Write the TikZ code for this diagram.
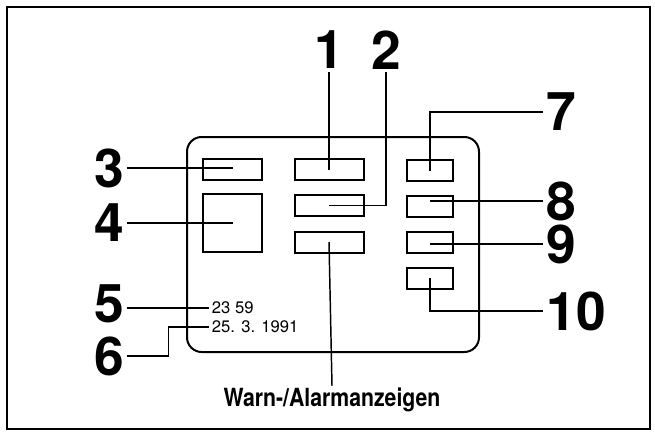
\documentclass[tikz,border=0pt]{standalone}
\usepackage{fontspec}
\setmainfont{TeX Gyre Heros}
\newfontfamily\narrowfont[FakeStretch=0.85]{TeX Gyre Heros}
\tikzset{
  lamp/.style={draw, line width=1.5pt, minimum width=#1, minimum height=15.75pt, inner sep=0pt},
  lamp/.default=51.75pt,
  lbl/.style={inner xsep=2pt, inner ysep=0pt, font=\bfseries\fontsize{40}{40}\selectfont},
  readout/.style={anchor=west, inner sep=2pt, font=\fontsize{12.5}{12.5}\selectfont},
  leader/.style={line width=1.1pt},
}
\begin{document}
\begin{tikzpicture}[x=0.75pt,y=-0.75pt]
\useasboundingbox (0,0) rectangle (655,432);
% Rahmen
\draw[line width=2.2pt] (7,7) rectangle (650,429);
% Bildschirm
\draw[line width=1.5pt, rounded corners=11pt] (187,137) rectangle (479,352);

% Anzeigefelder
\node[lamp=44.25pt] (b3) at (232.5,169) {};
\node[lamp=44.25pt, minimum height=43.5pt] (b4) at (232.5,223) {};
\node[lamp] (b1) at (329,169.5) {};
\node[lamp] (b2) at (329,205.5) {};
\node[lamp] (bw) at (329,242) {};
\node[lamp=34.5pt] (b7) at (430,170.5) {};
\node[lamp=34.5pt] (b8) at (430,206.5) {};
\node[lamp=34.5pt] (b9) at (430,242.5) {};
\node[lamp=34.5pt] (b10) at (430,278) {};

% Uhrzeit und Datum
\node[readout] (t5) at (209,308) {23 59};
\node[readout] (t6) at (209,327) {25. 3. 1991};

% Nummern
\node[lbl] (l1) at (329,50) {1};
\node[lbl] (l2) at (386,50) {2};
\node[lbl] (l3) at (109,168) {3};
\node[lbl] (l4) at (109,223) {4};
\node[lbl] (l5) at (109,304) {5};
\node[lbl] (l6) at (109,356) {6};
\node[lbl] (l7) at (561,112) {7};
\node[lbl] (l8) at (561,201) {8};
\node[lbl] (l9) at (561,244) {9};
\node[lbl] (l10) at (576,311) {10};
\node[anchor=base, inner sep=1pt, font=\narrowfont\bfseries\fontsize{18.75}{18.75}\selectfont] (warn) at (332,406) {Warn-/Alarmanzeigen};

% Hinweislinien
\draw[leader] ([yshift=-2pt]l1.south) -- (b1.center);
\draw[leader] (b2.center) -| ([yshift=-2pt]l2.south);
\draw[leader] (l3) -- (l3 -| b3.center);
\draw[leader] (l4) -- (l4 -| b4.center);
\draw[leader] (t5.west) -- (t5.west -| l5.east);
\draw[leader] (l6.east) -- ++(42,0) |- (t6.west);
\draw[leader] (bw.center) -- (warn.north);
\draw[leader] (b7.center) |- (l7.west);
\draw[leader] (l8) -- (l8 -| b8.center);
\draw[leader] (l9) -- (l9 -| b9.center);
\draw[leader] (b10.center) |- (l10.west);
\end{tikzpicture}
\end{document}
